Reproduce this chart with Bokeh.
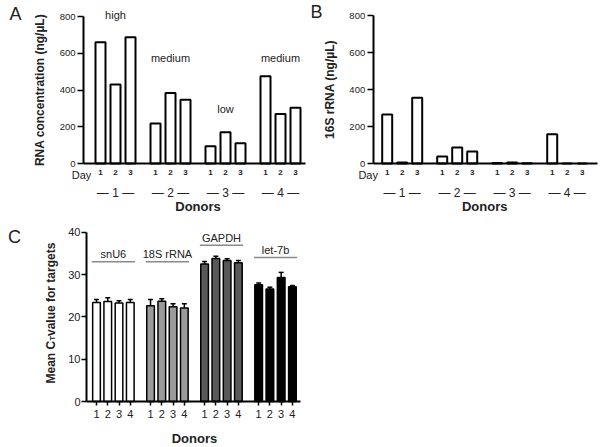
import math
from bokeh.plotting import figure
from bokeh.models import ColumnDataSource, Label, LabelSet, FixedTicker, Range1d
from bokeh.layouts import column, row
from bokeh.embed import file_html
from bokeh.resources import INLINE
from bokeh.core.properties import value

FONT = "Liberation Sans"
TXT = "#222222"

# ---------------- data ----------------
donors = ["1", "2", "3", "4"]
days = ["1", "2", "3"]
rna_conc = [660, 430, 687, 218, 383, 347, 94, 170, 110, 475, 270, 303]
rna_16s = [265, 5, 355, 38, 87, 65, 3, 5, 2, 158, 0, 0]
yield_tags = ["high", "medium", "low", "medium"]
conc_ticks = [0, 200, 400, 600, 800]

targets = ["snU6", "18S rRNA", "GAPDH", "let-7b"]
ct_snu6 = [23.4, 23.6, 23.3, 23.4]
ct_18s = [22.6, 23.7, 22.4, 22.1]
ct_gapdh = [32.5, 33.8, 33.3, 32.8]
ct_let7b = [27.6, 26.6, 29.3, 27.1]
sem_snu6 = [0.7, 0.9, 0.5, 0.7]
sem_18s = [1.5, 0.6, 0.7, 1.0]
sem_gapdh = [0.6, 0.5, 0.4, 0.5]
sem_let7b = [0.4, 0.4, 1.2, 0.3]
ct_ticks = [0, 10, 20, 30, 40]

# ---------------- layout helpers ----------------
DAY_STEP, GROUP_STEP = 3, 11
bar_x = [g * GROUP_STEP + d * DAY_STEP for g in range(len(donors)) for d in range(len(days))]
bar_day = [days[d] for g in range(len(donors)) for d in range(len(days))]
group_x = [g * GROUP_STEP + DAY_STEP for g in range(len(donors))]
group_txt = ["\u2014 %s \u2014" % d for d in donors]


class Frame:
    """pixel <-> data mapping for a figure whose frame fills the whole canvas"""
    def __init__(self, left, top, width, height, x0px, xs, y0px, ys):
        self.left, self.top, self.w, self.h = left, top, width, height
        self.x0px, self.xs, self.y0px, self.ys = x0px, xs, y0px, ys

    def dx(self, px):
        return (px - self.x0px) / self.xs

    def dy(self, py):
        return (self.y0px - py) / self.ys

    def make(self):
        p = figure(width=self.w, height=self.h, output_backend="svg", toolbar_location=None,
                   min_border=0, min_border_left=0, min_border_right=0,
                   min_border_top=0, min_border_bottom=0)
        p.x_range = Range1d(self.dx(self.left), self.dx(self.left + self.w))
        p.y_range = Range1d(self.dy(self.top + self.h), self.dy(self.top))
        p.xgrid.visible = False
        p.ygrid.visible = False
        p.outline_line_color = None
        p.background_fill_color = "white"
        p.border_fill_color = "white"
        for ax in (p.xaxis, p.yaxis):
            ax.axis_line_width = 2
            ax.axis_line_color = "black"
            ax.major_tick_line_width = 1.5
            ax.major_tick_line_color = "black"
            ax.minor_tick_out = 0
            ax.minor_tick_in = 0
            ax.major_tick_in = 0
            ax.major_label_text_font = FONT
            ax.major_label_text_color = TXT
            ax.axis_label_text_font = FONT
            ax.axis_label_text_color = TXT
            ax.axis_label_text_font_style = "bold"
        return p


def label(p, x, y, text, size, bold=False, angle=0.0, align="center", baseline="middle"):
    p.add_layout(Label(x=x, y=y, text=text, text_font=FONT, text_font_size=size,
                       text_font_style="bold" if bold else "normal", text_color=TXT,
                       angle=angle, text_align=align, text_baseline=baseline))


def conc_panel(fr, vals, ylabel, axis_left_px, axis_right_px, letter, letter_px, tags=None, tag_py=None):
    p = fr.make()
    src = ColumnDataSource(dict(x=bar_x, top=vals))
    p.vbar(x="x", top="top", width=2, bottom=0, source=src,
           fill_color="white", line_color="black", line_width=2)
    xl, xr = fr.dx(axis_left_px), fr.dx(axis_right_px)
    # y axis
    p.yaxis.fixed_location = xl
    p.yaxis.bounds = (0, 800)
    p.yaxis.ticker = FixedTicker(ticks=conc_ticks)
    p.yaxis.major_tick_out = 6
    p.yaxis.major_label_text_font_size = "9.5px"
    p.yaxis.major_label_standoff = 2
    p.yaxis.axis_label = ylabel
    p.yaxis.axis_label_text_font_size = "12px"
    p.yaxis.axis_label_standoff = 10
    # x axis: day numbers
    p.xaxis.fixed_location = 0
    p.xaxis.bounds = (xl, xr)
    p.xaxis.ticker = FixedTicker(ticks=bar_x)
    p.xaxis.major_label_overrides = {x: d for x, d in zip(bar_x, bar_day)}
    p.xaxis.major_tick_out = 0
    p.xaxis.major_label_text_font_size = "8px"
    p.xaxis.major_label_text_font_style = "bold"
    p.xaxis.major_label_standoff = 6
    base = fr.y0px
    label(p, bar_x[0] - 3.8, fr.dy(base + 11), "Day", "11px")
    gsrc = ColumnDataSource(dict(x=group_x, y=[fr.dy(base + 29.7)] * len(group_x), t=group_txt))
    p.add_layout(LabelSet(x="x", y="y", text="t", source=gsrc, text_font=value(FONT),
                          text_font_size="12px", text_color=TXT, text_align="center",
                          text_baseline="middle"))
    label(p, sum(group_x) / len(group_x), fr.dy(base + 42.7), "Donors", "13px", bold=True)
    if tags is not None:
        tsrc = ColumnDataSource(dict(x=group_x, y=[fr.dy(t) for t in tag_py], t=tags))
        p.add_layout(LabelSet(x="x", y="y", text="t", source=tsrc, text_font=value(FONT),
                              text_font_size="11px", text_color=TXT, text_align="center",
                              text_baseline="middle"))
    label(p, fr.dx(letter_px[0]), fr.dy(letter_px[1]), letter, "18px")
    return p


frA = Frame(0, 0, 308, 215, 100.0, 5.0, 163.0, 147.0 / 800)
pA = conc_panel(frA, rna_conc, "RNA concentration (ng/\u00b5L)", 83, 305, "A", (15, 13),
                tags=yield_tags, tag_py=[14, 57.5, 108, 57.5])
frB = Frame(308, 0, 294, 215, 386.7, 5.0, 163.0, 148.0 / 800)
pB = conc_panel(frB, rna_16s, "16S rRNA (ng/\u00b5L)", 372.7, 597, "B", (316, 11))

# ---------------- panel C ----------------
C_BAR, C_GROUP = 5, 24
c_means = [ct_snu6, ct_18s, ct_gapdh, ct_let7b]
c_sems = [sem_snu6, sem_18s, sem_gapdh, sem_let7b]
c_colors = ["white", "#9b9b9b", "#595959", "black"]

cx, ctop, csem, ccol, clab = [], [], [], [], []
for g in range(len(targets)):
    for i in range(len(donors)):
        cx.append(g * C_GROUP + i * C_BAR)
        ctop.append(c_means[g][i])
        csem.append(c_sems[g][i])
        ccol.append(c_colors[g])
        clab.append(donors[i])

frC = Frame(0, 215, 308, 232, 96.0, 2.252, 401.0, 169.3 / 40)
pC = frC.make()
csrc = ColumnDataSource(dict(x=cx, top=ctop, col=ccol,
                             up=[m + s for m, s in zip(ctop, csem)],
                             c0=[x - 1.1 for x in cx], c1=[x + 1.1 for x in cx]))
pC.segment(x0="x", y0="top", x1="x", y1="up", source=csrc, line_color="black", line_width=1.5)
pC.segment(x0="c0", y0="up", x1="c1", y1="up", source=csrc, line_color="black", line_width=1.5)
pC.vbar(x="x", top="top", width=3.4, bottom=0, source=csrc, fill_color="col",
        line_color="black", line_width=1.5)

cxl, cxr = frC.dx(86), frC.dx(300)
pC.yaxis.fixed_location = cxl
pC.yaxis.bounds = (0, 40)
pC.yaxis.ticker = FixedTicker(ticks=ct_ticks)
pC.yaxis.major_tick_out = 5
pC.yaxis.major_label_text_font_size = "11px"
pC.yaxis.major_label_standoff = 1
pC.xaxis.fixed_location = 0
pC.xaxis.bounds = (cxl, cxr)
pC.xaxis.ticker = FixedTicker(ticks=cx)
pC.xaxis.major_label_overrides = {x: l for x, l in zip(cx, clab)}
pC.xaxis.major_tick_out = 4
pC.xaxis.major_label_text_font_size = "11px"
pC.xaxis.major_label_standoff = 4

label(pC, (cx[0] + cx[-1]) / 2, frC.dy(438), "Donors", "13px", bold=True)

# target group titles with rule lines
g_first = [g * C_GROUP for g in range(len(targets))]
g_last = [g * C_GROUP + (len(donors) - 1) * C_BAR for g in range(len(targets))]
rule_y = [33.0, 33.0, 36.9, 34.0]
title_y = [34.9, 34.9, 38.6, 35.7]
tsrc = ColumnDataSource(dict(x0=[a - 2.1 for a in g_first], x1=[b + 2.1 for b in g_last],
                             y=rule_y, xm=[(a + b) / 2 for a, b in zip(g_first, g_last)],
                             ty=title_y, t=targets))
pC.segment(x0="x0", y0="y", x1="x1", y1="y", source=tsrc, line_color="#8a8a8a", line_width=1.5)
pC.add_layout(LabelSet(x="xm", y="ty", text="t", source=tsrc, text_font=value(FONT),
                       text_font_size="11px", text_color=TXT, text_align="center",
                       text_baseline="middle"))

# y-axis label with subscript T (text runs bottom-to-top)
up = math.pi / 2
label(pC, frC.dx(50), frC.dy(383), "Mean C", "12px", bold=True, angle=up, align="left", baseline="alphabetic")
label(pC, frC.dx(51.5), frC.dy(340), "T", "7.5px", bold=True, angle=up, align="left", baseline="alphabetic")
label(pC, frC.dx(50), frC.dy(335.5), " value for targets", "12px", bold=True, angle=up, align="left", baseline="alphabetic")
label(pC, frC.dx(14), frC.dy(236.6), "C", "18px")

layout = column(row(pA, pB), pC)
open("out.html", "w").write(file_html(layout, INLINE))
